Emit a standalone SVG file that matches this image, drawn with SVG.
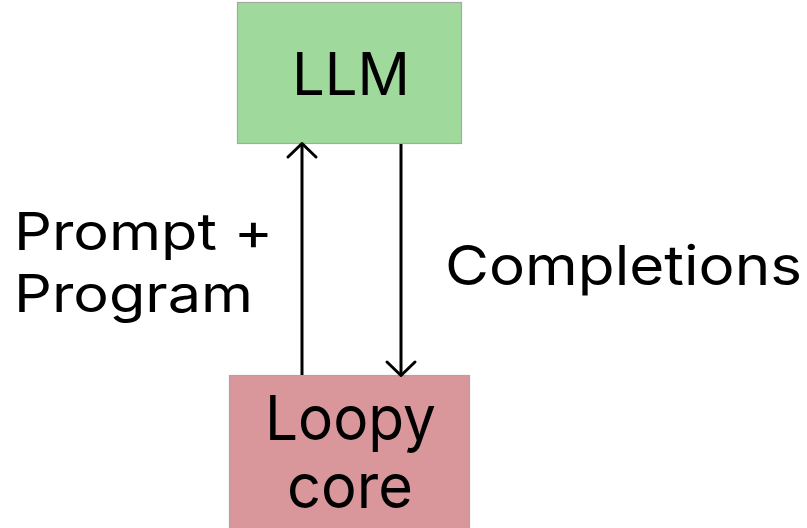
<svg xmlns="http://www.w3.org/2000/svg" width="807" height="528" viewBox="0 0 807 528">
  <style>
    .box { stroke: #a3aaa3; stroke-width: 1.2; }
    .llm { fill: #9fd99b; }
    .core { fill: #d9969b; }
    text { font-family: Inter, "Noto Sans", "Liberation Sans", sans-serif; fill: #000; }
    .node-label { text-anchor: middle; }
    .edge { stroke: #000; stroke-width: 3; fill: none; }
    .head { stroke: #000; stroke-width: 3; fill: none; stroke-linecap: round; stroke-linejoin: round; }
  </style>
  <rect width="807" height="528" fill="#ffffff"/>

  <g id="llm">
    <rect class="box llm" x="237.5" y="2.5" width="224" height="141"/>
    <text class="node-label" x="351" y="95" font-size="59" textLength="118" lengthAdjust="spacingAndGlyphs">LLM</text>
  </g>

  <g id="loopy-core">
    <rect class="box core" x="229.5" y="375.5" width="240" height="160"/>
    <text class="node-label" x="350.5" y="440" font-size="62" textLength="171" lengthAdjust="spacingAndGlyphs">Loopy</text>
    <text class="node-label" x="350" y="508" font-size="62" textLength="126" lengthAdjust="spacingAndGlyphs">core</text>
  </g>

  <g id="connectors">
    <!-- core -> LLM -->
    <line class="edge" x1="302" y1="375" x2="302" y2="145"/>
    <polyline class="head" points="288,157 302,143.5 316,157"/>
    <!-- LLM -> core -->
    <line class="edge" x1="401" y1="144" x2="401" y2="374"/>
    <polyline class="head" points="387,362 401,375.5 415,362"/>
  </g>

  <g id="labels">
    <text x="14" y="250" font-size="52" textLength="259" lengthAdjust="spacingAndGlyphs">Prompt +</text>
    <text x="14" y="312" font-size="52" textLength="239" lengthAdjust="spacingAndGlyphs">Program</text>
    <text x="445" y="285" font-size="55" textLength="357" lengthAdjust="spacingAndGlyphs">Completions</text>
  </g>
</svg>
